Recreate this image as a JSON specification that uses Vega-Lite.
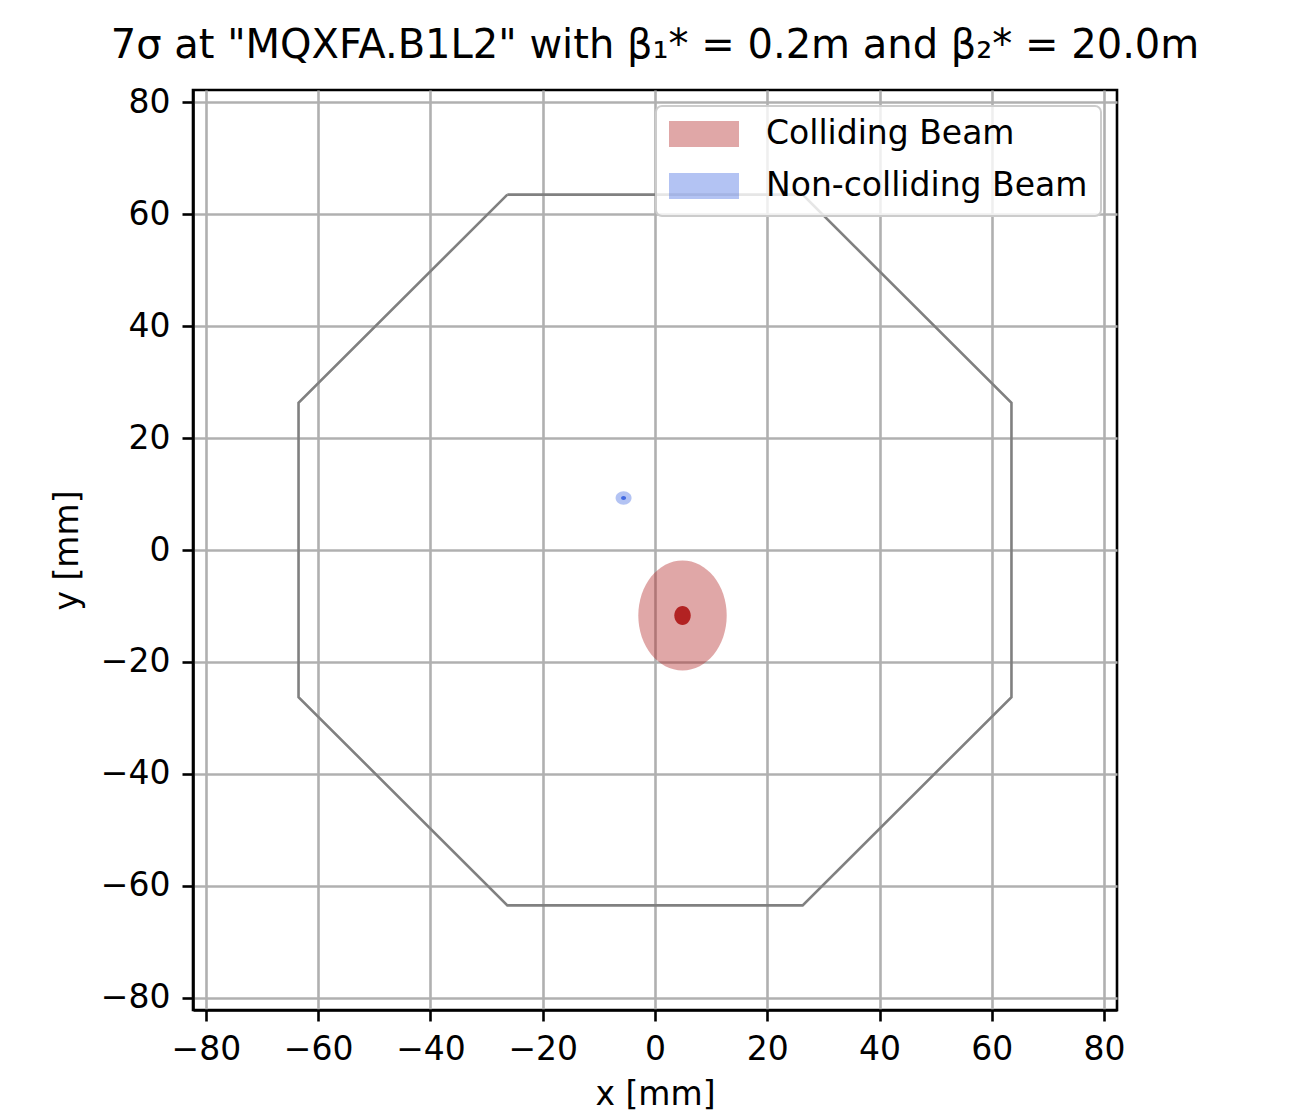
{
  "$schema": "https://vega.github.io/schema/vega-lite/v6.json",
  "autosize": {"type": "none"},
  "padding": {"left": 193, "top": 90, "right": 173, "bottom": 106},
  "width": 924,
  "height": 920,
  "background": "white",
  "title": {
    "text": "7σ at \"MQXFA.B1L2\" with  β₁* = 0.2m and β₂* = 20.0m",
    "font": "DejaVu Sans",
    "fontSize": 40,
    "fontWeight": "normal",
    "color": "black",
    "anchor": "middle",
    "offset": 20
  },
  "datasets": {
    "octagon": [
      {"i": 0, "x": -26.3, "y": 63.5},
      {"i": 1, "x": 26.3, "y": 63.5},
      {"i": 2, "x": 63.5, "y": 26.3},
      {"i": 3, "x": 63.5, "y": -26.3},
      {"i": 4, "x": 26.3, "y": -63.5},
      {"i": 5, "x": -26.3, "y": -63.5},
      {"i": 6, "x": -63.5, "y": -26.3},
      {"i": 7, "x": -63.5, "y": 26.3},
      {"i": 8, "x": -26.3, "y": 63.5}
    ],
    "beams": [
      {"beam": "Colliding Beam", "part": "envelope", "x": 4.9, "y": -11.7},
      {"beam": "Non-colliding Beam", "part": "envelope", "x": -5.6, "y": 9.3},
      {"beam": "Colliding Beam", "part": "core", "x": 4.9, "y": -11.7},
      {"beam": "Non-colliding Beam", "part": "core", "x": -5.6, "y": 9.3}
    ]
  },
  "layer": [
    {
      "data": {"name": "octagon"},
      "mark": {"type": "line", "color": "#808080", "strokeWidth": 2.6, "clip": true},
      "encoding": {
        "x": {"field": "x", "type": "quantitative", "scale": {"domain": [-82.3, 82.3], "nice": false, "zero": false},
              "axis": {"values": [-80, -60, -40, -20, 0, 20, 40, 60, 80], "title": "x [mm]"}},
        "y": {"field": "y", "type": "quantitative", "scale": {"domain": [-82.2, 82.2], "nice": false, "zero": false},
              "axis": {"values": [-80, -60, -40, -20, 0, 20, 40, 60, 80], "title": "y [mm]"}},
        "order": {"field": "i", "type": "quantitative"}
      }
    },
    {
      "data": {"name": "beams"},
      "transform": [{"filter": "datum.part === 'envelope' && datum.beam === 'Colliding Beam'"}],
      "mark": {"type": "point", "filled": true, "opacity": 0.4, "strokeWidth": 0, "size": 7815,
               "shape": "M1,0C1,0.687,0.552,1.244,0,1.244C-0.552,1.244,-1,0.687,-1,0C-1,-0.687,-0.552,-1.244,0,-1.244C0.552,-1.244,1,-0.687,1,0Z"},
      "encoding": {
        "x": {"field": "x", "type": "quantitative"},
        "y": {"field": "y", "type": "quantitative"},
        "color": {"field": "beam", "type": "nominal",
                  "scale": {"domain": ["Colliding Beam", "Non-colliding Beam"], "range": ["#b22222", "#4169e1"]},
                  "legend": {"title": null}}
      }
    },
    {
      "data": {"name": "beams"},
      "transform": [{"filter": "datum.part === 'envelope' && datum.beam === 'Non-colliding Beam'"}],
      "mark": {"type": "point", "filled": true, "opacity": 0.4, "strokeWidth": 0, "size": 256,
               "shape": "M1,0C1,0.464,0.552,0.84,0,0.84C-0.552,0.84,-1,0.464,-1,0C-1,-0.464,-0.552,-0.84,0,-0.84C0.552,-0.84,1,-0.464,1,0Z"},
      "encoding": {
        "x": {"field": "x", "type": "quantitative"},
        "y": {"field": "y", "type": "quantitative"},
        "color": {"field": "beam", "type": "nominal"}
      }
    },
    {
      "data": {"name": "beams"},
      "transform": [{"filter": "datum.part === 'core' && datum.beam === 'Colliding Beam'"}],
      "mark": {"type": "point", "filled": true, "opacity": 1, "strokeWidth": 0, "size": 269, "color": "#b22222",
               "shape": "M1,0C1,0.641,0.552,1.16,0,1.16C-0.552,1.16,-1,0.641,-1,0C-1,-0.641,-0.552,-1.16,0,-1.16C0.552,-1.16,1,-0.641,1,0Z"},
      "encoding": {
        "x": {"field": "x", "type": "quantitative"},
        "y": {"field": "y", "type": "quantitative"}
      }
    },
    {
      "data": {"name": "beams"},
      "transform": [{"filter": "datum.part === 'core' && datum.beam === 'Non-colliding Beam'"}],
      "mark": {"type": "point", "filled": true, "opacity": 1, "strokeWidth": 0, "size": 25, "color": "#4169e1",
               "shape": "M1,0C1,0.442,0.552,0.8,0,0.8C-0.552,0.8,-1,0.442,-1,0C-1,-0.442,-0.552,-0.8,0,-0.8C0.552,-0.8,1,-0.442,1,0Z"},
      "encoding": {
        "x": {"field": "x", "type": "quantitative"},
        "y": {"field": "y", "type": "quantitative"}
      }
    }
  ],
  "config": {
    "font": "DejaVu Sans",
    "view": {"stroke": "black", "strokeWidth": 2.6},
    "axis": {
      "grid": true,
      "gridColor": "#b0b0b0",
      "gridWidth": 2.6,
      "gridOpacity": 1,
      "domainColor": "black",
      "domainWidth": 2.6,
      "tickColor": "black",
      "tickWidth": 2.6,
      "tickSize": 11,
      "labelFont": "DejaVu Sans",
      "labelFontSize": 33,
      "labelColor": "black",
      "labelExpr": "replace(datum.label, '-', '−')",
      "titleFont": "DejaVu Sans",
      "titleFontSize": 33,
      "titleFontWeight": "normal",
      "titleColor": "black"
    },
    "axisX": {"labelPadding": 12, "titlePadding": 12},
    "axisY": {"labelPadding": 12, "titlePadding": 16},
    "legend": {
      "orient": "top-right",
      "offset": 16,
      "padding": 13,
      "fillColor": "rgba(255,255,255,0.8)",
      "strokeColor": "#cccccc",
      "strokeWidth": 2,
      "cornerRadius": 6,
      "labelFont": "DejaVu Sans",
      "labelFontSize": 33,
      "labelColor": "black",
      "labelLimit": 1000,
      "labelOffset": 27,
      "symbolType": "M-1,-0.37H1V0.37H-1Z",
      "symbolSize": 4900,
      "symbolOpacity": 0.4,
      "symbolStrokeWidth": 0,
      "clipHeight": 30,
      "rowPadding": 19
    }
  }
}
